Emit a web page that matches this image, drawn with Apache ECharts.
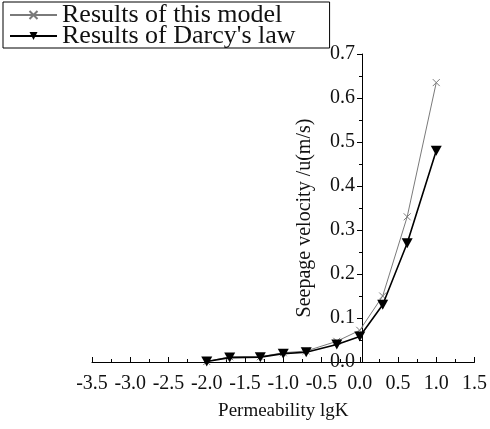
<!DOCTYPE html>
<html>
<head>
<meta charset="utf-8">
<script src="https://cdn.jsdelivr.net/npm/echarts@6/dist/echarts.min.js"></script>
<style>
  html, body { margin: 0; padding: 0; background: #fff; }
  #chart { width: 490px; height: 429px; }
</style>
</head>
<body>
<div id="chart"></div>
<script>
// permeability lgK
const lgK = [-2.0, -1.7, -1.3, -1.0, -0.7, -0.3, 0.0, 0.3, 0.62, 1.0];
// seepage velocity u (m/s)
const modelResults = [0.001, 0.012, 0.012, 0.021, 0.025, 0.047, 0.072, 0.15, 0.33, 0.635];
const darcyResults = [0.001, 0.01, 0.011, 0.019, 0.022, 0.04, 0.058, 0.13, 0.27, 0.48];

const seriesNames = ["Results of this model", "Results of Darcy's law"];

const font = "'Liberation Serif', 'DejaVu Serif', serif";

const chart = echarts.init(document.getElementById("chart"));

const pairs = (ys) => lgK.map((x, i) => [x, ys[i]]);

const option = {
  animation: false,
  textStyle: { fontFamily: font },
  legend: {
    data: seriesNames,
    orient: "vertical",
    left: 3,
    top: 2,
    padding: [0, 34, -1, 6],
    itemGap: -5,
    itemWidth: 47,
    itemHeight: 10,
    borderColor: "#000",
    borderWidth: 1,
    borderRadius: 0,
    textStyle: { fontFamily: font, fontSize: 26, color: "#111" },
  },
  grid: {
    left: 92,
    right: 12,
    top: 54,
    bottom: 67,
    containLabel: false,
  },
  xAxis: {
    type: "value",
    min: -3.5,
    max: 1.5,
    interval: 0.5,
    name: "Permeability lgK",
    nameLocation: "middle",
    nameGap: 40,
    nameTextStyle: { fontFamily: font, fontSize: 19, color: "#111" },
    axisLine: { onZero: true, lineStyle: { color: "#000", width: 1 } },
    axisTick: { inside: true, length: 5, lineStyle: { color: "#000" } },
    minorTick: { show: true, splitNumber: 2, length: 3, lineStyle: { color: "#000" } },
    axisLabel: {
      fontFamily: font,
      fontSize: 20,
      color: "#111",
      margin: 12,
      formatter: (v) => v.toFixed(1),
    },
    splitLine: { show: false },
  },
  yAxis: {
    type: "value",
    min: 0,
    max: 0.7,
    interval: 0.1,
    // y axis sits at lgK = 0, shifted in from the grid's left edge
    offset: -270,
    name: "Seepage velocity /u(m/s)",
    nameLocation: "middle",
    nameGap: 47,
    nameTextStyle: { fontFamily: font, fontSize: 20, color: "#111", padding: [0, 20, 0, 0] },
    axisLine: { show: true, onZero: false, lineStyle: { color: "#000", width: 1 } },
    axisTick: { show: true, inside: false, length: 5, lineStyle: { color: "#000" } },
    minorTick: { show: true, splitNumber: 2, length: 3, lineStyle: { color: "#000" } },
    axisLabel: {
      fontFamily: font,
      fontSize: 20,
      color: "#111",
      margin: 7,
      formatter: (v) => v.toFixed(1),
    },
    splitLine: { show: false },
  },
  series: [
    {
      name: seriesNames[0],
      type: "line",
      data: pairs(modelResults),
      symbol: "path://M0,0L10,10M10,0L0,10",
      symbolSize: 7,
      showAllSymbol: true,
      lineStyle: { color: "#7a7a7a", width: 1 },
      itemStyle: { color: "#7a7a7a", borderColor: "#7a7a7a", borderWidth: 1 },
      z: 2,
    },
    {
      name: seriesNames[1],
      type: "line",
      data: pairs(darcyResults),
      symbol: "triangle",
      symbolRotate: 180,
      symbolSize: [11, 10],
      showAllSymbol: true,
      lineStyle: { color: "#000", width: 1.6 },
      itemStyle: { color: "#000" },
      z: 3,
    },
  ],
};

chart.setOption(option);
window.addEventListener("resize", () => chart.resize());
</script>
</body>
</html>
